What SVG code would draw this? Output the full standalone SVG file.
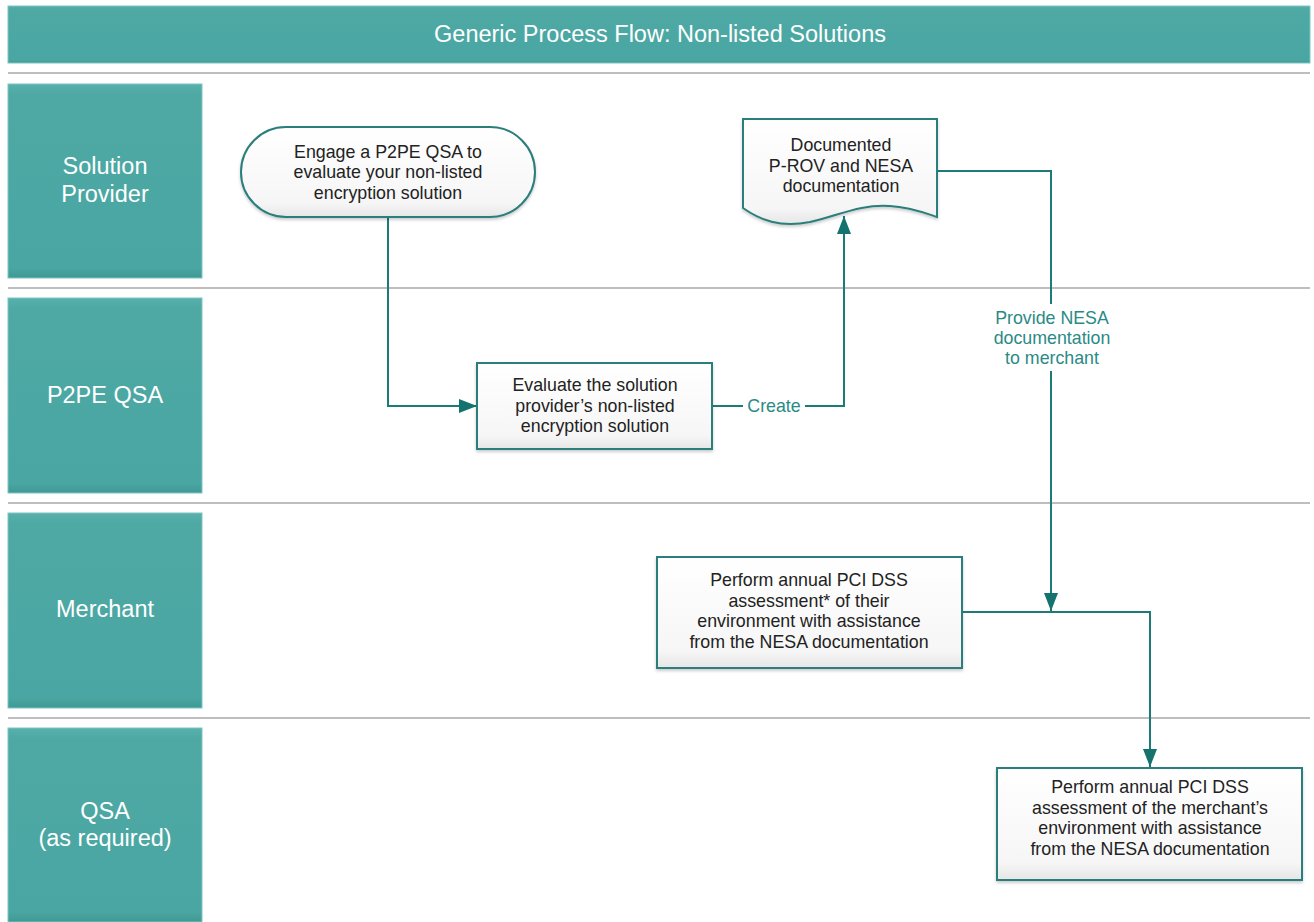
<svg xmlns="http://www.w3.org/2000/svg" width="1314" height="922" viewBox="0 0 1314 922">
<style>
.lane{fill:url(#laneGrad);stroke:#7cc6c2;stroke-width:1}
.lanetxt{font-family:"Liberation Sans",Arial,sans-serif;font-size:23.5px;fill:#ffffff;text-anchor:middle}
.title{font-family:"Liberation Sans",Arial,sans-serif;font-size:23.5px;fill:#ffffff;text-anchor:middle}
.sep{stroke:#a8a8a8;stroke-width:1.5}
.node{fill:url(#nodeGrad);stroke:#2a7f7b;stroke-width:2;filter:url(#shadow)}
.ntxt{font-family:"Liberation Sans",Arial,sans-serif;font-size:17.8px;fill:#222222;text-anchor:middle}
.conn{fill:none;stroke:#1d7b77;stroke-width:2}
.ltxt{font-family:"Liberation Sans",Arial,sans-serif;font-size:17.8px;fill:#2a8a86;text-anchor:middle}
</style>
<defs>
<linearGradient id="laneGrad" x1="0" y1="0" x2="0" y2="1">
<stop offset="0" stop-color="#58b0ac"/>
<stop offset="0.05" stop-color="#4ea9a5"/>
<stop offset="0.95" stop-color="#4aa6a2"/>
<stop offset="1" stop-color="#3f9894"/>
</linearGradient>
<linearGradient id="nodeGrad" x1="0" y1="0" x2="0" y2="1">
<stop offset="0" stop-color="#ffffff"/>
<stop offset="0.85" stop-color="#f6f6f6"/>
<stop offset="1" stop-color="#e6e6e6"/>
</linearGradient>
<filter id="shadow" x="-5%" y="-5%" width="110%" height="115%">
<feDropShadow dx="0" dy="2" stdDeviation="1.5" flood-color="#000" flood-opacity="0.2"/>
</filter>
<marker id="arrow" markerUnits="userSpaceOnUse" viewBox="0 0 18 14" refX="18" refY="7" markerWidth="18" markerHeight="14" orient="auto">
<path d="M0,0 L18,7 L0,14 Z" fill="#14736f"/>
</marker>
</defs>
<rect width="1314" height="922" fill="#ffffff"/>

<g id="header">
<rect class="lane" x="8" y="6" width="1302" height="57"/>
<text class="title" x="660" y="42">Generic Process Flow: Non-listed Solutions</text>
</g>

<g id="separators">
<line class="sep" x1="8" y1="73" x2="1310" y2="73"/>
<line class="sep" x1="8" y1="288" x2="1310" y2="288"/>
<line class="sep" x1="8" y1="503" x2="1310" y2="503"/>
<line class="sep" x1="8" y1="718" x2="1310" y2="718"/>
</g>

<g id="lane-solution-provider">
<rect class="lane" x="8" y="84" width="194" height="194"/>
<text class="lanetxt" x="105" y="174">Solution</text>
<text class="lanetxt" x="105" y="202">Provider</text>
</g>
<g id="lane-p2pe-qsa">
<rect class="lane" x="8" y="298" width="194" height="195"/>
<text class="lanetxt" x="105" y="403">P2PE QSA</text>
</g>
<g id="lane-merchant">
<rect class="lane" x="8" y="513" width="194" height="195"/>
<text class="lanetxt" x="105" y="617">Merchant</text>
</g>
<g id="lane-qsa">
<rect class="lane" x="8" y="728" width="194" height="194"/>
<text class="lanetxt" x="105" y="819">QSA</text>
<text class="lanetxt" x="105" y="846">(as required)</text>
</g>

<g id="connectors">
<path class="conn" d="M388,217 V406 H477" marker-end="url(#arrow)"/>
<path class="conn" d="M712,406 H844 V216" marker-end="url(#arrow)"/>
<rect x="743" y="394" width="62" height="22" fill="#ffffff"/>
<text class="ltxt" x="774" y="412">Create</text>
<path class="conn" d="M937,171 H1051 V611" marker-end="url(#arrow)"/>
<rect x="990" y="304" width="124" height="67" fill="#ffffff"/>
<text class="ltxt" x="1052" y="324">Provide NESA</text>
<text class="ltxt" x="1052" y="344">documentation</text>
<text class="ltxt" x="1052" y="364">to merchant</text>
<path class="conn" d="M962,612 H1150 V767" marker-end="url(#arrow)"/>
</g>

<g id="node-engage">
<rect class="node" x="241" y="127" width="294" height="90" rx="45" ry="45"/>
<text class="ntxt" x="388" y="158">Engage a P2PE QSA to</text>
<text class="ntxt" x="388" y="178">evaluate your non-listed</text>
<text class="ntxt" x="388" y="199">encryption solution</text>
</g>

<g id="node-evaluate">
<rect class="node" x="477" y="363" width="235" height="86"/>
<text class="ntxt" x="595" y="391">Evaluate the solution</text>
<text class="ntxt" x="595" y="412">provider’s non-listed</text>
<text class="ntxt" x="595" y="432">encryption solution</text>
</g>

<g id="node-document">
<path class="node" d="M743,119 H937 V217 C925,213 910,207 890,206 C860,204 840,215 810,222 C780,228 760,220 743,208 Z"/>
<text class="ntxt" x="841" y="151">Documented</text>
<text class="ntxt" x="841" y="172">P-ROV and NESA</text>
<text class="ntxt" x="841" y="192">documentation</text>
</g>

<g id="node-merchant-assessment">
<rect class="node" x="657" y="557" width="305" height="111"/>
<text class="ntxt" x="809" y="586">Perform annual PCI DSS</text>
<text class="ntxt" x="809" y="607">assessment* of their</text>
<text class="ntxt" x="809" y="627">environment with assistance</text>
<text class="ntxt" x="809" y="648">from the NESA documentation</text>
</g>

<g id="node-qsa-assessment">
<rect class="node" x="997" y="768" width="305" height="112"/>
<text class="ntxt" x="1150" y="793">Perform annual PCI DSS</text>
<text class="ntxt" x="1150" y="814">assessment of the merchant’s</text>
<text class="ntxt" x="1150" y="834">environment with assistance</text>
<text class="ntxt" x="1150" y="855">from the NESA documentation</text>
</g>
</svg>
